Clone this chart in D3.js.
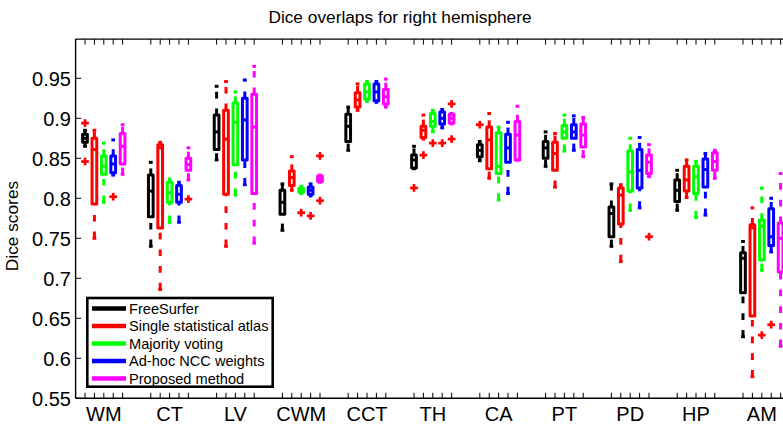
<!DOCTYPE html>
<html>
<head>
<meta charset="utf-8">
<script src="https://cdn.jsdelivr.net/npm/d3@7/dist/d3.min.js"></script>
<style>
  html, body { margin: 0; padding: 0; background: #fff; }
  svg { display: block; font-family: "Liberation Sans", Arial, Helvetica, sans-serif; }
</style>
</head>
<body>
<svg id="chart" width="783" height="425"></svg>
<script>
// ---- data ----
const categories = ["WM", "CT", "LV", "CWM", "CCT", "TH", "CA", "PT", "PD", "HP", "AM"];
const methods = ["FreeSurfer", "Single statistical atlas", "Majority voting", "Ad-hoc NCC weights", "Proposed method"];
const colors = ["#000000", "#ff0000", "#00ff00", "#0000ff", "#ff00ff"];
const yTicks = [0.55, 0.6, 0.65, 0.7, 0.75, 0.8, 0.85, 0.9, 0.95];
const yTickLabels = ["0.55", "0.6", "0.65", "0.7", "0.75", "0.8", "0.85", "0.9", "0.95"];

// per category: [lower whisker, q1, median, q3, upper whisker]
const freeSurfer = [
  [0.865, 0.870, 0.875, 0.880, 0.885],
  [0.740, 0.777, 0.809, 0.829, 0.845],
  [0.848, 0.861, 0.883, 0.904, 0.940],
  [0.760, 0.780, 0.795, 0.810, 0.818],
  [0.860, 0.871, 0.890, 0.905, 0.914],
  [0.837, 0.838, 0.848, 0.854, 0.865],
  [0.847, 0.852, 0.860, 0.867, 0.871],
  [0.840, 0.850, 0.863, 0.871, 0.883],
  [0.740, 0.752, 0.781, 0.789, 0.818],
  [0.785, 0.796, 0.810, 0.823, 0.835],
  [0.627, 0.682, 0.725, 0.732, 0.746]
];
const singleAtlas = [
  [0.750, 0.793, 0.861, 0.875, 0.885],
  [0.686, 0.763, 0.863, 0.867, 0.870],
  [0.740, 0.805, 0.874, 0.910, 0.946],
  [0.810, 0.816, 0.826, 0.834, 0.852],
  [0.910, 0.914, 0.923, 0.932, 0.943],
  [0.874, 0.876, 0.885, 0.890, 0.904],
  [0.825, 0.837, 0.873, 0.889, 0.906],
  [0.814, 0.835, 0.856, 0.870, 0.881],
  [0.721, 0.768, 0.804, 0.813, 0.817],
  [0.801, 0.809, 0.823, 0.840, 0.848],
  [0.577, 0.653, 0.763, 0.767, 0.788]
];
const majorityVoting = [
  [0.795, 0.830, 0.840, 0.853, 0.869],
  [0.770, 0.795, 0.807, 0.820, 0.824],
  [0.804, 0.842, 0.895, 0.919, 0.933],
  [0.806, 0.808, 0.810, 0.8125, 0.815],
  [0.921, 0.924, 0.933, 0.943, 0.946],
  [0.883, 0.890, 0.896, 0.906, 0.910],
  [0.798, 0.831, 0.840, 0.882, 0.889],
  [0.859, 0.875, 0.883, 0.891, 0.904],
  [0.785, 0.809, 0.833, 0.859, 0.875],
  [0.776, 0.806, 0.827, 0.840, 0.846],
  [0.710, 0.723, 0.765, 0.773, 0.8125]
];
const adhocNCC = [
  [0.829, 0.832, 0.843, 0.853, 0.873],
  [0.770, 0.795, 0.805, 0.816, 0.820],
  [0.817, 0.848, 0.898, 0.925, 0.948],
  [0.803, 0.805, 0.810, 0.814, 0.818],
  [0.920, 0.922, 0.933, 0.943, 0.946],
  [0.888, 0.893, 0.900, 0.908, 0.911],
  [0.806, 0.845, 0.863, 0.880, 0.895],
  [0.860, 0.875, 0.883, 0.892, 0.903],
  [0.788, 0.813, 0.835, 0.861, 0.876],
  [0.779, 0.814, 0.836, 0.849, 0.856],
  [0.733, 0.741, 0.752, 0.787, 0.800]
];
const proposed = [
  [0.830, 0.843, 0.865, 0.881, 0.892],
  [0.823, 0.835, 0.842, 0.850, 0.863],
  [0.744, 0.806, 0.889, 0.930, 0.965],
  [0.820, 0.821, 0.824, 0.828, 0.829],
  [0.914, 0.918, 0.927, 0.936, 0.949],
  [0.893, 0.894, 0.900, 0.905, 0.906],
  [0.848, 0.848, 0.879, 0.896, 0.915],
  [0.852, 0.864, 0.879, 0.893, 0.901],
  [0.827, 0.831, 0.845, 0.854, 0.867],
  [0.825, 0.835, 0.846, 0.857, 0.860],
  [0.615, 0.708, 0.750, 0.769, 0.831]
];
// outliers: [category index, method index, value]
const outliers = [
  [0, 0, 0.894], [0, 0, 0.846], [0, 3, 0.802],
  [1, 4, 0.799],
  [3, 2, 0.782], [3, 3, 0.778], [3, 4, 0.853], [3, 4, 0.797],
  [5, 0, 0.813], [5, 1, 0.854], [5, 2, 0.869], [5, 3, 0.869], [5, 4, 0.918], [5, 4, 0.874],
  [6, 0, 0.892],
  [8, 4, 0.752],
  [10, 2, 0.629], [10, 3, 0.642]
];
const series = [freeSurfer, singleAtlas, majorityVoting, adhocNCC, proposed];

// ---- layout ----
const svg = d3.select("#chart");
const x = d3.scaleLinear().domain([0, 78]).range([75.6, 75.6 + 78 * 9.4]);
const y = d3.scaleLinear().domain([0.55, 0.999]).range([398.3, 39.1]);
const pos = (ci, mi) => 7 * ci + mi + 1;
const boxHalf = 0.25, capHalf = 0.2;

// title & labels
svg.append("text").attr("x", 400).attr("y", 23).attr("text-anchor", "middle")
  .attr("font-size", 17.3).text("Dice overlaps for right hemisphere");
svg.append("text").attr("transform", "translate(18,226) rotate(-90)").attr("text-anchor", "middle")
  .attr("font-size", 17.3).text("Dice scores");

// axes frame
const ax = svg.append("g").attr("stroke", "#000").attr("stroke-width", 1.4).attr("fill", "none");
ax.append("line").attr("x1", x(0)).attr("x2", x(0)).attr("y1", y.range()[1]).attr("y2", y.range()[0]);
ax.append("line").attr("x1", x(0)).attr("x2", 783).attr("y1", y.range()[0]).attr("y2", y.range()[0]);
ax.append("line").attr("x1", x(0)).attr("x2", 783).attr("y1", y.range()[1]).attr("y2", y.range()[1]);

// x ticks (top & bottom, inward)
const tickPos = [];
categories.forEach((c, ci) => methods.forEach((m, mi) => tickPos.push(pos(ci, mi))));
const tk = svg.append("g").attr("stroke", "#000").attr("stroke-width", 1);
tickPos.forEach(p => {
  tk.append("line").attr("x1", x(p)).attr("x2", x(p)).attr("y1", y.range()[0]).attr("y2", y.range()[0] - 5.5);
  tk.append("line").attr("x1", x(p)).attr("x2", x(p)).attr("y1", y.range()[1]).attr("y2", y.range()[1] + 5.5);
});
// y ticks
yTicks.forEach((t, i) => {
  tk.append("line").attr("x1", x(0)).attr("x2", x(0) + 5.5).attr("y1", y(t)).attr("y2", y(t));
  svg.append("text").attr("x", 71).attr("y", y(t) + 7.2).attr("text-anchor", "end")
    .attr("font-size", 20).text(yTickLabels[i]);
});
// category labels
categories.forEach((c, ci) => {
  svg.append("text").attr("x", x(pos(ci, 2))).attr("y", 420.5).attr("text-anchor", "middle")
    .attr("font-size", 20).text(c);
});

// boxes
const gb = svg.append("g");
series.forEach((s, mi) => {
  const col = colors[mi];
  s.forEach((d, ci) => {
    const p = pos(ci, mi);
    const [lo, q1, med, q3, hi] = d;
    const g = gb.append("g").attr("stroke", col).attr("fill", "none").attr("stroke-width", 3);
    g.append("line").attr("x1", x(p)).attr("x2", x(p)).attr("y1", y(q3)).attr("y2", y(hi))
      .attr("stroke-dasharray", "6.7,10");
    g.append("line").attr("x1", x(p)).attr("x2", x(p)).attr("y1", y(lo)).attr("y2", y(q1))
      .attr("stroke-dasharray", "6.7,10");
    [lo, hi].forEach(v => {
      g.append("line").attr("x1", x(p - capHalf)).attr("x2", x(p + capHalf)).attr("y1", y(v)).attr("y2", y(v));
    });
    g.append("rect").attr("x", x(p - boxHalf)).attr("width", x(p + boxHalf) - x(p - boxHalf))
      .attr("y", y(q3)).attr("height", y(q1) - y(q3)).attr("stroke-linejoin", "round");
    g.append("line").attr("x1", x(p - boxHalf)).attr("x2", x(p + boxHalf)).attr("y1", y(med)).attr("y2", y(med));
  });
});

// outliers (red +)
const go = svg.append("g").attr("stroke", "#ff0000").attr("stroke-width", 2.7).attr("stroke-linecap", "square");
outliers.forEach(([ci, mi, v]) => {
  const cx = x(pos(ci, mi)), cy = y(v);
  go.append("line").attr("x1", cx - 2.5).attr("x2", cx + 2.5).attr("y1", cy).attr("y2", cy);
  go.append("line").attr("x1", cx).attr("x2", cx).attr("y1", cy - 2.5).attr("y2", cy + 2.5);
});

// legend
const lg = svg.append("g");
lg.append("rect").attr("x", 87.3).attr("y", 298).attr("width", 185.4).attr("height", 88.7)
  .attr("fill", "#fff").attr("stroke", "#000").attr("stroke-width", 2.6);
methods.forEach((m, i) => {
  const ly = 308.5 + i * 17.5;
  lg.append("line").attr("x1", 92).attr("x2", 126).attr("y1", ly).attr("y2", ly)
    .attr("stroke", colors[i]).attr("stroke-width", 4.5);
  lg.append("text").attr("x", 129).attr("y", ly + 5.2).attr("font-size", 14.6).text(m);
});
</script>
</body>
</html>
